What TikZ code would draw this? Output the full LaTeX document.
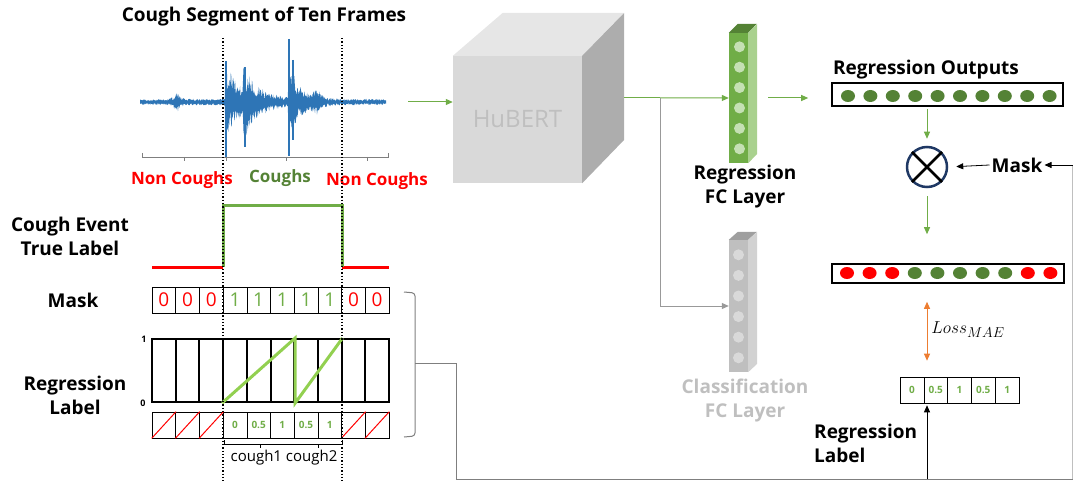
\documentclass[tikz,border=0pt]{standalone}
\usepackage{fontspec}
\setmainfont{Open Sans}
\usepackage{tikz}
\usetikzlibrary{arrows.meta,calc}
\definecolor{wave}{HTML}{2E75B6}
\definecolor{nonred}{HTML}{FF0000}
\definecolor{coughgreen}{HTML}{548235}
\definecolor{fcgreen}{HTML}{70AD47}
\definecolor{fcgreendark}{HTML}{548235}
\definecolor{fcgreenlight}{HTML}{A9D18E}
\definecolor{fcdot}{HTML}{C5E0B4}
\definecolor{rampgreen}{HTML}{92D050}
\definecolor{cubefront}{HTML}{D9D9D9}
\definecolor{cubetop}{HTML}{E6E6E6}
\definecolor{cubeside}{HTML}{ADADAD}
\definecolor{paleg}{HTML}{BFBFBF}
\definecolor{navy}{HTML}{1F3864}
\definecolor{lossorange}{HTML}{ED7D31}
\definecolor{fbgray}{HTML}{7F7F7F}

\begin{document}
\begin{tikzpicture}[x=1pt,y=-1pt,
    lbl/.style={font=\fontsize{19}{24}\selectfont\bfseries,align=center,inner sep=1pt},
    seglbl/.style={font=\fontsize{17}{20}\selectfont\bfseries,inner sep=1pt},
    garrow/.style={draw=fcgreen,line width=1pt,-{Triangle[length=7pt,width=6pt]}},
    grarrow/.style={draw=paleg!80!black,line width=1pt,-{Triangle[length=7pt,width=6pt]}},
    karrow/.style={draw=black,line width=0.8pt,-{Triangle[length=7pt,width=6pt]}},
    maskcell/.style={draw,line width=0.6pt,minimum width=23.7pt,minimum height=26pt,inner sep=0pt,font=\fontsize{19}{20}\selectfont},
    regcell/.style={draw,line width=2pt,minimum width=23.7pt,minimum height=63pt,inner sep=0pt},
    valcell/.style={draw,line width=0.6pt,minimum width=23.7pt,minimum height=26pt,inner sep=0pt,font=\fontsize{10}{12}\selectfont\bfseries,text=fcgreen},
    declare function={env(\t)=2.6+7/(1+((\t-177)/3)^2)
      +40*(\t>=225)*exp(-min(max(\t-225,0),60)/12)
      +30*(\t>=243)*exp(-min(max(\t-243,0),60)/9)
      +46*(\t>=288)*exp(-min(max(\t-288,0),60)/9)
      +10/(1+((\t-317)/3)^2)+5/(1+((\t-262)/20)^2);}]
  \useasboundingbox (0,0) rectangle (1073,481);

  \begin{scope}
    \node[lbl] (title) at (264,17) {Cough Segment of Ten Frames};
    \pgfmathsetseed{11}
    \fill[wave] plot[domain=140:386,samples=500,variable=\t] (\t,{102-env(\t)*(0.3+0.7*rnd)})
      -- plot[domain=386:140,samples=500,variable=\t] (\t,{102+env(\t)*(0.3+0.7*rnd)}) -- cycle;
    \draw[wave,line width=1.4pt] (226,61) -- (226,157) (245,67) -- (245,147) (289,39) -- (289,156) (293,60) -- (293,140);
    \draw[fbgray,line width=0.8pt] (142,153) -- (142,157) -- (388,157) -- (388,153);
    \foreach \t in {184,226,286,367}
      \draw[fbgray,line width=0.8pt] (\t,157) -- (\t,161);
    \node[seglbl,text=nonred] (noncough1) at (182,180) {Non Coughs};
    \node[seglbl,text=coughgreen] (cough) at (280,178) {Coughs};
    \node[seglbl,text=nonred] (noncough2) at (377,181) {Non Coughs};
  \end{scope}

  \begin{scope}
    \node[lbl] (truelbl) at (70,236) {Cough Event\\True Label};
    \draw[nonred,line width=3pt] (152,267) -- (223,267) (342,267) -- (389,267);
    \draw[fcgreen,line width=3pt] (223,267) -- (223,206) -- (342,206) -- (342,267);

    \node[lbl] (masklbl) at (73,300) {Mask};
    \foreach \v/\c [count=\i from 0] in {0/nonred,0/nonred,0/nonred,1/fcgreen,1/fcgreen,1/fcgreen,1/fcgreen,1/fcgreen,0/nonred,0/nonred}
      \node[maskcell,text=\c] (m\i) at ({152+23.7*(\i+0.5)},300) {\v};

    \node[lbl] (reglbl) at (75,395) {Regression\\Label};
    \foreach \i in {0,...,9}
      \node[regcell] (r\i) at ({152+23.7*(\i+0.5)},370.5) {};
    \node[font=\fontsize{9}{10}\selectfont\bfseries] (one) at (144,339) {1};
    \node[font=\fontsize{9}{10}\selectfont\bfseries] (zero) at (143,403) {0};
    \draw[rampgreen,line width=3pt] (r3.south west) -- (r5.north east) -- (r5.south east) -- (r7.north east);

    \foreach \v [count=\i from 0] in {,,,0,0.5,1,0.5,1,,}
      \node[valcell] (l\i) at ({152+23.7*(\i+0.5)},425) {\v};
    \foreach \i in {0,1,2,8,9}
      \draw[nonred,line width=1pt] (l\i.south west) -- (l\i.north east);

    \draw[line width=0.8pt] (224,440) -- (224,444) -- (342,444) -- (342,440);
    \foreach \t in {260,318}
      \draw[line width=0.8pt] (\t,444) -- (\t,448);
    \node[font=\fontsize{15}{17}\selectfont] (coughs) at (284,458) {cough1 cough2};

    \draw[dotted,line width=1.3pt] (223,38) -- (223,481) (342,38) -- (342,481);
  \end{scope}

  \begin{scope}
    \node[fill=cubefront,minimum width=129pt,minimum height=127pt,inner sep=0pt,text=paleg,font=\fontsize{24}{26}\selectfont] (hubert) at (517.5,119.5) {HuBERT};
    \fill[cubetop] (hubert.north west) -- ++(50,-43) -- ++(121,0) -- (hubert.north east) -- cycle;
    \fill[cubeside] (hubert.north east) -- ++(42,-43) -- ++(0,127) -- (hubert.south east) -- cycle;
    \coordinate (wave-out) at (408,102);
    \coordinate (hubert-out) at ($(hubert.north east)+(42,42)$);
    \coordinate (split) at ($(hubert-out)+(36,0)$);
    \draw[garrow] (wave-out) -- (wave-out -| hubert.west);

    \node[fill=fcgreen,minimum width=19pt,minimum height=130pt,inner sep=0pt] (regfc) at (738.5,98) {};
    \fill[fcgreendark] (regfc.north west) -- ++(9,-9) -- ++(19,0) -- (regfc.north east) -- cycle;
    \fill[fcgreenlight] (regfc.north east) -- ++(9,-9) -- ++(0,130) -- (regfc.south east) -- cycle;
    \foreach \k in {0,...,5}
      \fill[fcdot] ($(regfc.north)+(1,14+20.4*\k)$) circle (5.5pt);
    \node[lbl] (regfclbl) at (745,187) {Regression\\FC Layer};

    \node[fill=paleg,minimum width=19pt,minimum height=132pt,inner sep=0pt] (clsfc) at (738.5,306) {};
    \fill[gray!75] (clsfc.north west) -- ++(9,-8) -- ++(19,0) -- (clsfc.north east) -- cycle;
    \fill[gray!35] (clsfc.north east) -- ++(9,-8) -- ++(0,132) -- (clsfc.south east) -- cycle;
    \foreach \k in {0,...,5}
      \fill[cubefront] ($(clsfc.north)+(0,15+20.6*\k)$) circle (5.5pt);
    \node[lbl,text=paleg] (clsfclbl) at (745,401) {Classification\\FC Layer};

    \draw[fcgreen,line width=1pt] (hubert-out) -- (split);
    \draw[garrow] (split) -- (regfc.west);
    \draw[grarrow] (split) -- (split |- clsfc.west) -- (clsfc.west);
  \end{scope}

  \begin{scope}
    \node[lbl] (outlbl) at (926,70) {Regression Outputs};
    \node[draw,line width=1.6pt,minimum width=231pt,minimum height=23pt,inner sep=0pt] (regout) at (947.5,94.5) {};
    \foreach \k in {0,...,9}
      \fill[coughgreen] ({848+22.4*\k},96) ellipse (7pt and 6pt);
    \draw[garrow,shorten <=20pt,shorten >=23pt] (regfc.east) -- (regfc.east -| regout.west);

    \node[circle,draw=navy,line width=2.5pt,minimum size=40pt,inner sep=0pt] (mul) at (927,167) {};
    \draw[line width=2.5pt] (mul.north west) -- (mul.south east) (mul.north east) -- (mul.south west);
    \draw[garrow,shorten <=2pt,shorten >=7pt] (regout.south -| mul) -- (mul.north);
    \node[lbl,inner sep=2pt] (masktxt) at (1017,165) {Mask};
    \draw[karrow,shorten >=8pt] (masktxt.west) -- (mul.east);

    \node[draw,line width=1.6pt,minimum width=232pt,minimum height=19pt,inner sep=0pt] (maskout) at (948,273.5) {};
    \foreach \c [count=\k from 0] in {nonred,nonred,nonred,coughgreen,coughgreen,coughgreen,coughgreen,coughgreen,nonred,nonred}
      \fill[\c] ({847+22.6*\k},273) ellipse (7pt and 6pt);
    \draw[garrow,shorten <=8pt,shorten >=29pt] (mul.south) -- (mul |- maskout.north);

    \foreach \v [count=\i from 0] in {0,0.5,1,0.5,1}
      \node[valcell,minimum width=23.8pt] (lc\i) at ({900+23.8*(\i+0.5)},390) {\v};
    \draw[lossorange,line width=1pt,{Triangle[length=7pt,width=6pt]}-{Triangle[length=7pt,width=6pt]},shorten <=18pt,shorten >=16pt] (mul |- maskout.south) -- (mul |- lc0.north);
    \node[font=\fontsize{19}{21}\selectfont] (loss) at (968,330) {$Loss_{MAE}$};
    \node[lbl,align=left,anchor=west] (reglbl2) at (813,443) {Regression\\Label};
  \end{scope}

  \coordinate (brace) at (415,363);
  \coordinate (loop-a) at (456,363);
  \coordinate (loop-b) at (456,479);
  \coordinate (loop-c) at (1072.5,479);
  \coordinate (loop-d) at (1072.5,165);
  \draw[fbgray,line width=1pt,rounded corners=3pt] (404,292) -- (415,293) -- (brace) -- (415,436) -- (404,437);
  \draw[fbgray,line width=1pt] (brace) -- (loop-a) -- (loop-b) -- (loop-c);
  \draw[fbgray!50,line width=1pt] (loop-c) -- (loop-d);
  \draw[karrow] (loop-d) -- (masktxt.east);
  \draw[karrow,shorten >=2pt] (mul |- loop-b) -- (mul |- lc0.south);
\end{tikzpicture}
\end{document}
